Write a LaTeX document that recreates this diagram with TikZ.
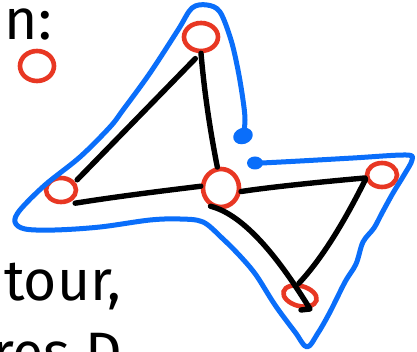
\documentclass[tikz,border=0pt]{standalone}
\usepackage{fontspec}
\setmainfont{Fira Sans}
\usetikzlibrary{shapes.geometric}
\definecolor{penblue}{RGB}{10,110,250}
\definecolor{penred}{RGB}{232,55,35}
\tikzset{
  x=1pt, y=-1pt,
  vertex/.style={ellipse, draw=penred, line width=4.6pt, inner sep=0pt},
  edge/.style={draw=black, line width=5.4pt, line cap=round, line join=round},
  outline/.style={draw=penblue, line width=5pt, line cap=round, line join=round},
  hand/.style={font=\fontsize{57}{60}\selectfont, inner sep=0pt, text=black},
}
\begin{document}
\begin{tikzpicture}
\useasboundingbox (0,0) rectangle (417,352);
\clip (0,0) rectangle (417,352);
\fill[white] (0,0) rectangle (417,352);

% text fragments
\node[hand, anchor=base east] (t1) at (52,40) {n:};
\node[hand, anchor=base west] (t2) at (4,300) {tour,};
\node[hand, anchor=base west] (t3) at (-8,372) {res D};

% vertices
\node[vertex, minimum width=34pt, minimum height=30pt] (lg) at (37,66) {};
\node[vertex, minimum width=34pt, minimum height=28pt] (tp) at (201,37) {};
\node[vertex, minimum width=30pt, minimum height=24pt] (lf) at (61,190) {};
\node[vertex, minimum width=36pt, minimum height=38pt] (md) at (221,188) {};
\node[vertex, minimum width=30pt, minimum height=24pt] (rt) at (382,175) {};
\node[vertex, minimum width=34pt, minimum height=20pt, rotate=-15] (bt) at (300,296) {};

% tour edges
\path (tp.250) ++(0,6) coordinate (a1);
\path (lf.40) ++(4,0) coordinate (a2);
\draw[edge] (a1) -- (a2);
\draw[edge] (tp.270) .. controls (205,100) and (212,140) .. (md.100);
\path (lf.320) ++(2,3) coordinate (b1);
\draw[edge] (b1) .. controls (120,196) and (170,190) .. (md.175);
\draw[edge] (md.350) .. controls (270,187) and (330,181) .. (rt.190);
\draw[edge] (rt.195) .. controls (355,200) and (330,250) .. (bt.110);
\coordinate (c1) at (310,309);
\coordinate (c2) at (301,310);
\draw[edge] (md.240) .. controls (245,215) and (280,260) .. (c1) -- (c2);

% blue outline
\draw[outline] plot[smooth, tension=0.55] coordinates {
  (243,139) (245,120) (243,100) (238,70) (231,40) (220,12) (207,5) (192,8)
  (178,30) (150,73) (123,110) (110,127) (80,157) (45,185) (20,210) (15,222)
  (25,229) (55,230) (100,227) (150,220) (180,219) (203,222) (222,238)
  (240,256) (256,275) (275,305) (295,332) (307,347) (318,333) (330,312)
  (345,282) (356,264) (363,242) (374,228) (382,213) (393,193) (404,175)
  (412,160) (406,155) (353,158) (300,161) (262,163)};
\fill[penblue, rotate around={20:(243,136)}] (243,136) ellipse (10pt and 8pt);
\fill[penblue] (255,163) ellipse (8pt and 6.5pt);
\end{tikzpicture}
\end{document}
